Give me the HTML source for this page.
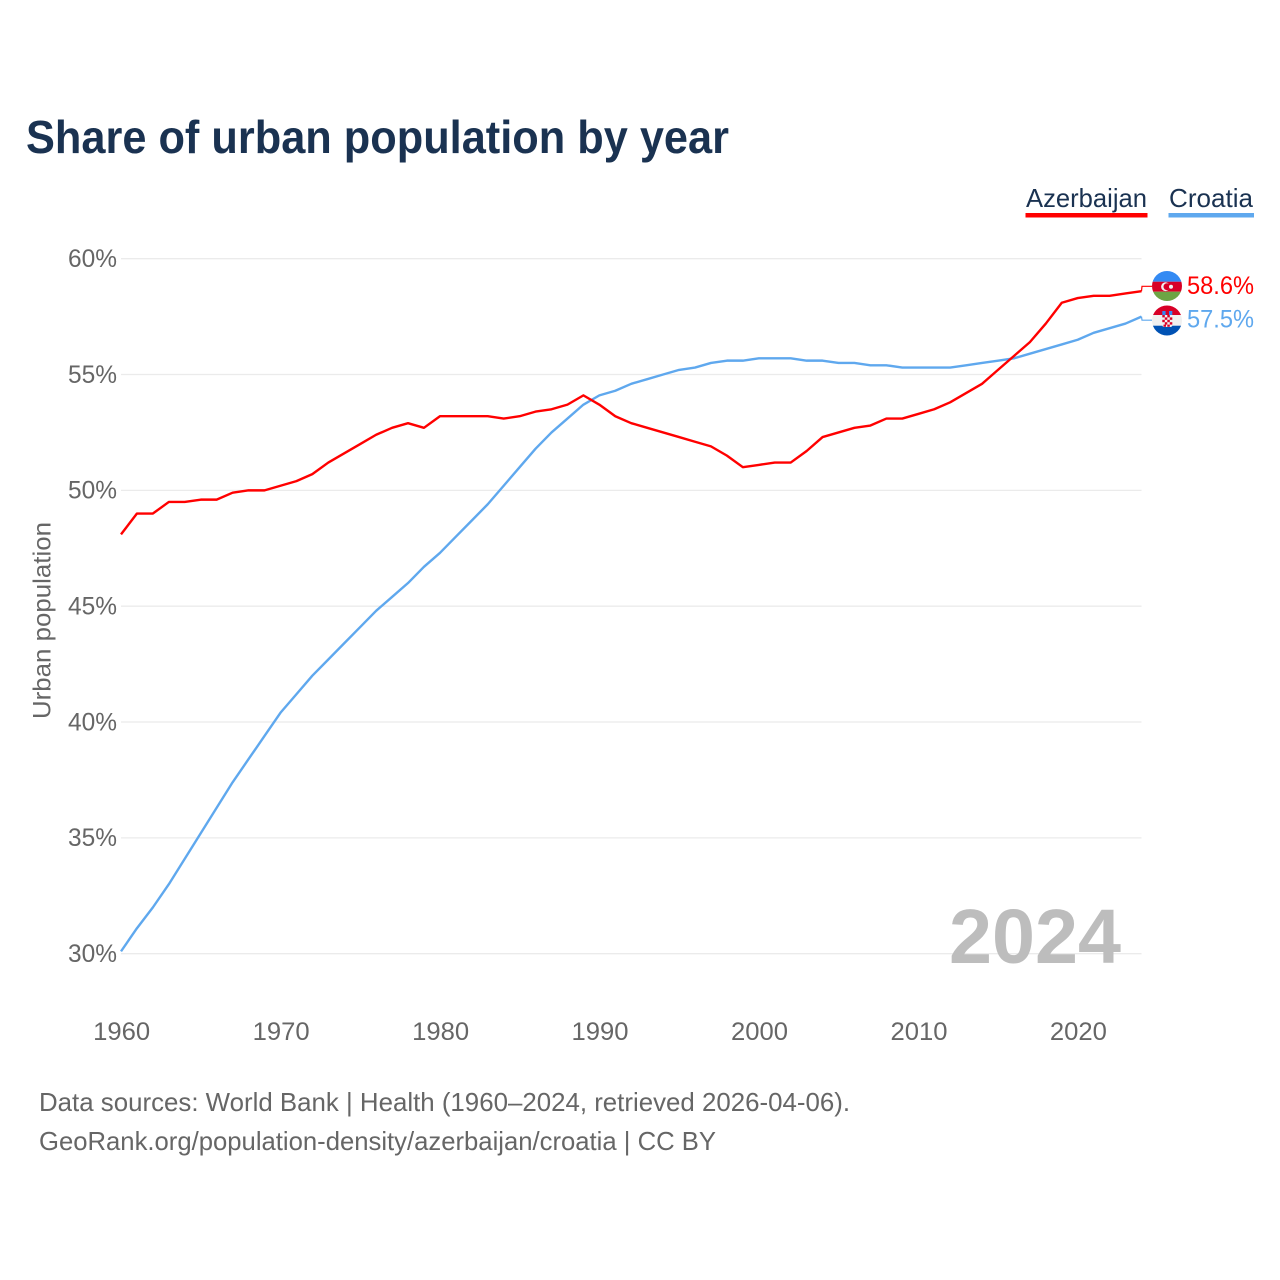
<!DOCTYPE html>
<html lang="en">
<head>
<meta charset="utf-8">
<title>Share of urban population by year</title>
<style>
html,body{margin:0;padding:0;background:#fff;width:1280px;height:1280px;overflow:hidden}
svg{display:block}
text{font-family:"Liberation Sans",sans-serif}
</style>
</head>
<body>
<svg id="chart" xmlns="http://www.w3.org/2000/svg" width="1280" height="1280" viewBox="0 0 1280 1280">
  <defs>
    <clipPath id="flag-clip-az"><circle cx="1167" cy="286" r="15"/></clipPath>
    <clipPath id="flag-clip-hr"><circle cx="1167" cy="320.5" r="15"/></clipPath>
  </defs>
  <rect width="1280" height="1280" fill="#fff"/>
  <text x="26" y="153" font-size="46" font-weight="700" fill="#1a3251" textLength="703" lengthAdjust="spacingAndGlyphs">Share of urban population by year</text>

  <g id="gridlines"></g>
  <g id="y-ticks"></g>
  <g id="x-ticks"></g>

  <text transform="translate(50.5,620.5) rotate(-90)" text-anchor="middle" font-size="25" fill="#666" textLength="197" lengthAdjust="spacingAndGlyphs">Urban population</text>

  <text x="949" y="963" font-size="77" font-weight="700" fill="#bdbdbd" textLength="172" lengthAdjust="spacingAndGlyphs">2024</text>

  <g id="series"></g>

  <g clip-path="url(#flag-clip-az)">
    <rect x="1152" y="271" width="30" height="10.7" fill="#338af3"/>
    <rect x="1152" y="281.7" width="30" height="10" fill="#d80027"/>
    <rect x="1152" y="291.7" width="30" height="9.3" fill="#6da544"/>
    <circle cx="1165.5" cy="286.7" r="4.4" fill="#f0f0f0"/>
    <circle cx="1167" cy="286.7" r="3.5" fill="#d80027"/>
    <circle cx="1171" cy="286.7" r="2" fill="#f0f0f0"/>
  </g>
  <g clip-path="url(#flag-clip-hr)">
    <rect x="1152" y="305" width="30" height="10" fill="#d80027"/>
    <rect x="1152" y="315" width="30" height="10.7" fill="#f0f0f0"/>
    <rect x="1152" y="325.7" width="30" height="10.3" fill="#0052b4"/>
    <rect x="1162.3" y="311" width="10" height="4" fill="#338af3"/>
    <rect x="1165.6" y="311" width="3.4" height="4" fill="#d80027"/>
    <rect x="1162.3" y="315" width="10" height="12" rx="2" fill="#f0f0f0"/>
    <rect x="1162.3" y="315" width="2.5" height="2.4" fill="#d80027"/>
    <rect x="1167.3" y="315" width="2.5" height="2.4" fill="#d80027"/>
    <rect x="1164.8" y="317.4" width="2.5" height="2.4" fill="#d80027"/>
    <rect x="1169.8" y="317.4" width="2.5" height="2.4" fill="#d80027"/>
    <rect x="1162.3" y="319.8" width="2.5" height="2.4" fill="#d80027"/>
    <rect x="1167.3" y="319.8" width="2.5" height="2.4" fill="#d80027"/>
    <rect x="1164.8" y="322.2" width="2.5" height="2.4" fill="#d80027"/>
    <rect x="1169.8" y="322.2" width="2.5" height="2.4" fill="#d80027"/>
    <rect x="1163.5" y="324.6" width="2.5" height="2.2" fill="#d80027"/>
    <rect x="1167.3" y="324.6" width="2.5" height="2.2" fill="#d80027"/>
  </g>

  <g>
    <text x="1026" y="207" font-size="26" fill="#1a3251" textLength="121" lengthAdjust="spacingAndGlyphs">Azerbaijan</text>
    <rect x="1025.5" y="213" width="122" height="4.5" fill="#ff0000"/>
  </g>
  <g>
    <text x="1169" y="207" font-size="26" fill="#1a3251" textLength="84" lengthAdjust="spacingAndGlyphs">Croatia</text>
    <rect x="1168.5" y="213" width="85.5" height="4.5" fill="#5fa8ee"/>
  </g>

  <text x="39" y="1111" font-size="26" fill="#666" textLength="811" lengthAdjust="spacingAndGlyphs">Data sources: World Bank | Health (1960–2024, retrieved 2026-04-06).</text>
  <text x="39" y="1150" font-size="26" fill="#666" textLength="677" lengthAdjust="spacingAndGlyphs">GeoRank.org/population-density/azerbaijan/croatia | CC BY</text>
</svg>
<script>
var years = [1960,1961,1962,1963,1964,1965,1966,1967,1968,1969,1970,1971,1972,1973,1974,1975,1976,1977,1978,1979,1980,1981,1982,1983,1984,1985,1986,1987,1988,1989,1990,1991,1992,1993,1994,1995,1996,1997,1998,1999,2000,2001,2002,2003,2004,2005,2006,2007,2008,2009,2010,2011,2012,2013,2014,2015,2016,2017,2018,2019,2020,2021,2022,2023,2024];
var azerbaijan = [48.1,49.0,49.0,49.5,49.5,49.6,49.6,49.9,50.0,50.0,50.2,50.4,50.7,51.2,51.6,52.0,52.4,52.7,52.9,52.7,53.2,53.2,53.2,53.2,53.1,53.2,53.4,53.5,53.7,54.1,53.7,53.2,52.9,52.7,52.5,52.3,52.1,51.9,51.5,51.0,51.1,51.2,51.2,51.7,52.3,52.5,52.7,52.8,53.1,53.1,53.3,53.5,53.8,54.2,54.6,55.2,55.8,56.4,57.2,58.1,58.3,58.4,58.4,58.5,58.6];
var croatia = [30.1,31.1,32.0,33.0,34.1,35.2,36.3,37.4,38.4,39.4,40.4,41.2,42.0,42.7,43.4,44.1,44.8,45.4,46.0,46.7,47.3,48.0,48.7,49.4,50.2,51.0,51.8,52.5,53.1,53.7,54.1,54.3,54.6,54.8,55.0,55.2,55.3,55.5,55.6,55.6,55.7,55.7,55.7,55.6,55.6,55.5,55.5,55.4,55.4,55.3,55.3,55.3,55.3,55.4,55.5,55.6,55.7,55.9,56.1,56.3,56.5,56.8,57.0,57.2,57.5];
var yTickValues = [30,35,40,45,50,55,60];
var xTickValues = [1960,1970,1980,1990,2000,2010,2020];

var NS = 'http://www.w3.org/2000/svg';
var plotLeft = 121, plotRight = 1141.5, plotTop = 258.7, plotBottom = 953.7;
var yearMin = 1960, yearMax = 2024, pctMin = 30, pctMax = 60;

function xScale(year) {
  return plotLeft + (year - yearMin) / (yearMax - yearMin) * (plotRight - plotLeft);
}
function yScale(pct) {
  return plotBottom - (pct - pctMin) / (pctMax - pctMin) * (plotBottom - plotTop);
}
function make(tag, attrs, parent, content) {
  var el = document.createElementNS(NS, tag);
  for (var k in attrs) el.setAttribute(k, attrs[k]);
  if (content !== undefined) el.textContent = content;
  parent.appendChild(el);
  return el;
}

var gridGroup = document.getElementById('gridlines');
var yTickGroup = document.getElementById('y-ticks');
var xTickGroup = document.getElementById('x-ticks');
var seriesGroup = document.getElementById('series');
var chartRoot = document.getElementById('chart');

yTickValues.forEach(function (v) {
  var line = make('line', {x1: plotLeft, x2: plotRight, y1: yScale(v), y2: yScale(v), stroke: '#ebebeb', 'stroke-width': 1.3}, gridGroup);
  
  
  var label = make('text', {x: 117, y: yScale(v) + 8.3, 'text-anchor': 'end', 'font-size': 25, fill: '#666', textLength: 49, lengthAdjust: 'spacingAndGlyphs'}, yTickGroup, v + '%');
  
  
});

xTickValues.forEach(function (v) {
  var label = make('text', {x: xScale(v) + 0.7, y: 1040, 'text-anchor': 'middle', 'font-size': 25, fill: '#666', textLength: 57, lengthAdjust: 'spacingAndGlyphs'}, xTickGroup, String(v));
  
  
});

function linePoints(values) {
  return values.map(function (v, i) {
    return xScale(years[i]).toFixed(2) + ',' + yScale(v).toFixed(2);
  }).join(' ');
}

var croatiaLine = make('polyline', {points: linePoints(croatia), fill: 'none', stroke: '#5fa8ee', 'stroke-width': 2.4, 'stroke-linejoin': 'round'}, seriesGroup);



var azerbaijanLine = make('polyline', {points: linePoints(azerbaijan), fill: 'none', stroke: '#ff0000', 'stroke-width': 2.4, 'stroke-linejoin': 'round'}, seriesGroup);



var lastAz = azerbaijan[azerbaijan.length - 1];
var lastHr = croatia[croatia.length - 1];
var lastYear = years[years.length - 1];

var azLabelY = 286.3;
var hrLabelY = 320.2;

var azConnector = make('polyline', {points: xScale(lastYear) + ',' + yScale(lastAz) + ' ' + (xScale(lastYear) + 0.5) + ',' + azLabelY + ' 1152,' + azLabelY, fill: 'none', stroke: '#ff0000', 'stroke-width': 1.2}, seriesGroup);



var hrConnector = make('polyline', {points: xScale(lastYear) + ',' + yScale(lastHr) + ' ' + (xScale(lastYear) + 0.5) + ',' + hrLabelY + ' 1152,' + hrLabelY, fill: 'none', stroke: '#5fa8ee', 'stroke-width': 1.2}, seriesGroup);



var azValue = make('text', {x: 1187, y: azLabelY + 7.5, 'font-size': 25, fill: '#ff0000', textLength: 67, lengthAdjust: 'spacingAndGlyphs'}, chartRoot, lastAz.toFixed(1) + '%');



var hrValue = make('text', {x: 1187, y: hrLabelY + 7.5, 'font-size': 25, fill: '#5fa8ee', textLength: 67, lengthAdjust: 'spacingAndGlyphs'}, chartRoot, lastHr.toFixed(1) + '%');


</script>
</body>
</html>
